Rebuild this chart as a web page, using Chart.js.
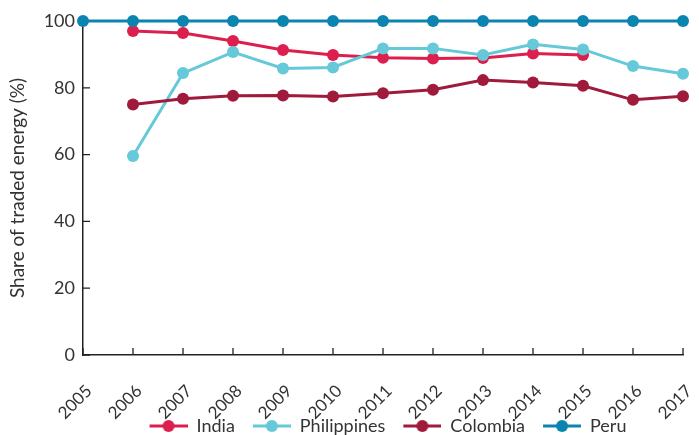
<!DOCTYPE html>
<html>
<head>
<meta charset="utf-8">
<script src="https://cdn.jsdelivr.net/npm/chart.js@4"></script>
<style>
  html, body { margin: 0; padding: 0; background: #fff; }
  #wrap { width: 699px; height: 435px; }
</style>
</head>
<body>
<div id="wrap"><canvas id="chart"></canvas></div>
<script>
(function(){
  'use strict';

  var years = ['2005','2006','2007','2008','2009','2010','2011','2012','2013','2014','2015','2016','2017'];
  var india       = [null, 97.0, 96.4, 94.0, 91.3, 89.8, 89.0, 88.8, 88.9, 90.3, 89.8, null, null];
  var philippines = [null, 59.6, 84.4, 90.7, 85.8, 86.1, 91.8, 91.8, 89.8, 93.0, 91.5, 86.5, 84.2];
  var colombia    = [null, 75.0, 76.7, 77.6, 77.7, 77.4, 78.4, 79.4, 82.3, 81.6, 80.6, 76.4, 77.5];
  var peru        = [100, 100, 100, 100, 100, 100, 100, 100, 100, 100, 100, 100, 100];
  var yTicks = [0, 20, 40, 60, 80, 100];

  var FONT = 'Lato';
  var TEXT = '#333333';
  var AXIS = '#222222';

  // legend icon: short line with a dot, 10px blank on the left as item gap
  function legendIcon(color) {
    var c = document.createElement('canvas');
    c.width = 48; c.height = 14;
    var g = c.getContext('2d');
    g.strokeStyle = color; g.lineWidth = 3;
    g.beginPath(); g.moveTo(10, 7); g.lineTo(48, 7); g.stroke();
    g.fillStyle = color;
    g.beginPath(); g.arc(29, 7, 6, 0, Math.PI * 2); g.fill();
    return c;
  }

  function series(label, values, color, order) {
    return {
      label: label,
      data: values,
      borderColor: color,
      backgroundColor: color,
      borderWidth: 3,
      pointRadius: 6,
      pointHoverRadius: 6,
      pointBorderWidth: 0,
      tension: 0,
      clip: false,
      order: order,
      icon: legendIcon(color)
    };
  }

  // inward tick marks on both axes
  var tickMarks = {
    id: 'tickMarks',
    beforeDatasetsDraw: function(chart) {
      var ctx = chart.ctx, x = chart.scales.x, y = chart.scales.y;
      ctx.save();
      ctx.strokeStyle = AXIS;
      ctx.lineWidth = 1.3;
      ctx.beginPath();
      x.ticks.forEach(function(t, i) {
        var px = x.getPixelForTick(i);
        ctx.moveTo(px, y.bottom); ctx.lineTo(px, y.bottom - 7);
      });
      y.ticks.forEach(function(t, i) {
        var py = y.getPixelForTick(i);
        ctx.moveTo(x.left, py); ctx.lineTo(x.left + 7, py);
      });
      ctx.stroke();
      ctx.restore();
    }
  };

  // fixed legend height, and centre it under the plot area
  var legendSize = {
    id: 'legendSize',
    afterInit: function(chart) {
      var lg = chart.legend;
      var fit = lg.fit;
      lg.fit = function() { fit.call(this); this.height = 26; };
    },
    beforeDraw: function(chart) {
      chart.legend.left = chart.chartArea.left;
      chart.legend.right = chart.chartArea.right;
    }
  };

  var ctx = document.getElementById('chart').getContext('2d');
  new Chart(ctx, {
    type: 'line',
    data: {
      labels: years,
      datasets: [
        series('India', india, '#dc1f4e', 3),
        series('Philippines', philippines, '#65c9d9', 2),
        series('Colombia', colombia, '#a01a3b', 1),
        series('Peru', peru, '#0b84b0', 0)
      ]
    },
    options: {
      responsive: true,
      maintainAspectRatio: false,
      animation: false,
      layout: { padding: { left: 6, right: 16, top: 21, bottom: 0 } },
      plugins: {
        tooltip: { enabled: false },
        legend: {
          position: 'bottom',
          labels: {
            usePointStyle: true,
            pointStyleWidth: 48,
            padding: 8,
            color: TEXT,
            font: { family: FONT, size: 18 },
            generateLabels: function(chart) {
              var items = Chart.defaults.plugins.legend.labels.generateLabels(chart);
              items.sort(function(a, b) { return a.datasetIndex - b.datasetIndex; });
              items.forEach(function(it) {
                it.pointStyle = chart.data.datasets[it.datasetIndex].icon;
              });
              return items;
            }
          }
        }
      },
      scales: {
        x: {
          offset: false,
          grid: { display: false },
          border: { display: true, color: AXIS, width: 1.5 },
          ticks: {
            autoSkip: false,
            maxRotation: 45,
            minRotation: 45,
            padding: 18,
            labelOffset: 6,
            color: TEXT,
            font: { family: FONT, size: 17 }
          },
          afterFit: function(scale) {
            scale.height = 54;
            scale.paddingLeft = 0;
            scale.paddingRight = 0;
            scale._computeLabelArea = function() { return undefined; };
          }
        },
        y: {
          min: 0,
          max: 100,
          grid: { display: false },
          border: { display: true, color: AXIS, width: 1.5 },
          afterBuildTicks: function(scale) {
            scale.ticks = yTicks.map(function(v) { return { value: v }; });
          },
          ticks: {
            padding: 0,
            color: TEXT,
            font: { family: FONT, size: 18 }
          },
          title: {
            display: true,
            text: 'Share of traded energy (%)',
            color: TEXT,
            font: { family: FONT, size: 19 },
            padding: { top: 0, bottom: 0 }
          },
          afterFit: function(scale) { scale.width = 77; }
        }
      }
    },
    plugins: [tickMarks, legendSize]
  });
})();
</script>
</body>
</html>
